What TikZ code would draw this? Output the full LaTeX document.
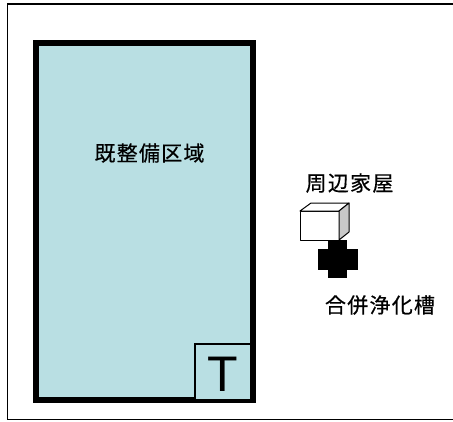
\documentclass[tikz,border=0pt]{standalone}
\usepackage{fontspec}
\newfontfamily\jpfont[LetterSpace=6,FakeBold=0.5]{Noto Sans CJK JP}
\newfontfamily\latinfont{Liberation Sans}
\definecolor{areafill}{RGB}{185,223,227}
\definecolor{sideface}{RGB}{200,200,200}
\begin{document}
\begin{tikzpicture}[x=1bp,y=-1bp,
  label/.style={font=\jpfont\fontsize{21bp}{25bp}\selectfont, inner sep=0pt},
  area/.style={draw=black, line width=6bp, fill=areafill, inner sep=0pt, outer sep=0pt},
  tank/.style={draw=black, line width=1.5bp, fill=areafill, inner sep=0pt, outer sep=0pt},
  face/.style={draw=black, line width=1bp, line join=round}]
  \useasboundingbox (0,0) rectangle (453,421);
  % outer frame, its right side runs past the page edge
  \begin{scope}
    \clip (0,0) rectangle (453,421);
    \draw[line width=1.5bp] (7.5,4) rectangle (470,419.5);
  \end{scope}
  % developed area with treatment plant box
  \node[area, minimum width=217bp, minimum height=357bp] (zone) at (144.5,221.5) {};
  \node[tank, minimum width=56bp, minimum height=56bp] (plant) at (223,372) {};
  \node[font=\latinfont\fontsize{50bp}{50bp}\selectfont, inner sep=0pt] (tmark) at (223,374) {T};
  \node[label] (zonelabel) at (149.5,153) {既整備区域};
  % neighbouring house as a small box
  \coordinate (h1) at (300,211);
  \coordinate (h2) at (339,211);
  \coordinate (h3) at (339,240);
  \coordinate (h4) at (300,240);
  \coordinate (h5) at (311,203);
  \coordinate (h6) at (349,203);
  \coordinate (h7) at (349,232);
  \filldraw[face, fill=white] (h1) -- (h2) -- (h3) -- (h4) -- cycle;
  \filldraw[face, fill=white] (h1) -- (h5) -- (h6) -- (h2) -- cycle;
  \filldraw[face, fill=sideface] (h2) -- (h6) -- (h7) -- (h3) -- cycle;
  \node[label] (houselabel) at (349.5,183) {周辺家屋};
  % septic tank marker
  \fill[black] (328,240) rectangle (347,278);
  \fill[black] (318,249) rectangle (358,270);
  \coordinate (septic) at (337.5,259.5);
  \node[label] (septiclabel) at (380,305) {合併浄化槽};
\end{tikzpicture}
\end{document}
